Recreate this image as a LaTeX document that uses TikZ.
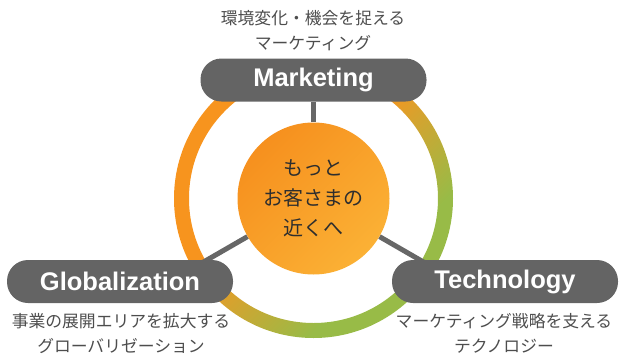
\documentclass[tikz,border=0pt]{standalone}
\usepackage{fontspec}
\setmainfont{Liberation Sans}
\newfontfamily\jp{Noto Sans CJK JP}
\usetikzlibrary{backgrounds,calc}

\definecolor{ringorange}{HTML}{F7941E}
\definecolor{ringgold}{HTML}{D8A22E}
\definecolor{ringgreen}{HTML}{98BB47}
\definecolor{coreA}{HTML}{F6901E}
\definecolor{coreB}{HTML}{FBB135}
\definecolor{boxgray}{HTML}{646464}
\definecolor{linegray}{HTML}{676767}
\definecolor{notegray}{HTML}{4D4D4D}
\definecolor{coretext}{HTML}{2E2E2E}

% ring colour runs from orange (upper left) through gold to green (lower right)
\pgfdeclarehorizontalshading{ringshade}{100bp}{color(0bp)=(ringorange); color(46bp)=(ringorange); color(52bp)=(ringgold); color(67bp)=(ringgreen); color(100bp)=(ringgreen)}
\pgfdeclarehorizontalshading{coreshade}{100bp}{color(0bp)=(coreA); color(25bp)=(coreA); color(75bp)=(coreB); color(100bp)=(coreB)}

\begin{document}
\begin{tikzpicture}[x=1pt,y=-1pt,
  tag/.style={fill=boxgray, rounded corners=21pt, minimum width=226pt, minimum height=43pt,
    inner sep=0pt, text=white, font=\fontsize{25.5}{30}\selectfont\bfseries},
  note/.style={align=center, text=notegray, inner sep=0pt,
    font=\jp\fontsize{16.8}{24.5}\selectfont},
  conn/.style={draw=linegray, line width=5pt}]
\useasboundingbox (0,0) rectangle (625,354);

\coordinate (hub) at (313.5,198.5);

% centre disc
\node[circle, shade, shading=coreshade, shading angle=-45, minimum size=152pt, inner sep=0pt,
  align=center, text=coretext, font=\jp\fontsize{20}{30}\selectfont] (core) at (hub)
  {もっと\\お客さまの\\近くへ};

% the three labels
\node[tag] (mk) at (313.5,80) {Marketing};
\node[tag] (gl) at (120,281.5) {Globalization};
\node[tag] (te) at (505,281.5) {Technology};

% captions
\node[note] (mk-note) at (313,30.7) {環境変化・機会を捉える\\マーケティング};
\node[note] (gl-note) at (121,333.4) {事業の展開エリアを拡大する\\グローバリゼーション};
\node[note] (te-note) at (504,333.4) {マーケティング戦略を支える\\テクノロジー};

% spoke ends, hidden under the labels (y axis points down, so angles are mirrored)
\coordinate (gl-joint) at ($(hub)+(150:150)$);
\coordinate (te-joint) at ($(hub)+(30:150)$);

\begin{scope}[on background layer]
  \shade[even odd rule, shading=ringshade, shading angle=-45]
    (hub) circle (139.5) (hub) circle (124.5);
  \draw[conn] (core) -- (mk);
  \draw[conn] (core) -- (gl-joint);
  \draw[conn] (core) -- (te-joint);
\end{scope}
\end{tikzpicture}
\end{document}
